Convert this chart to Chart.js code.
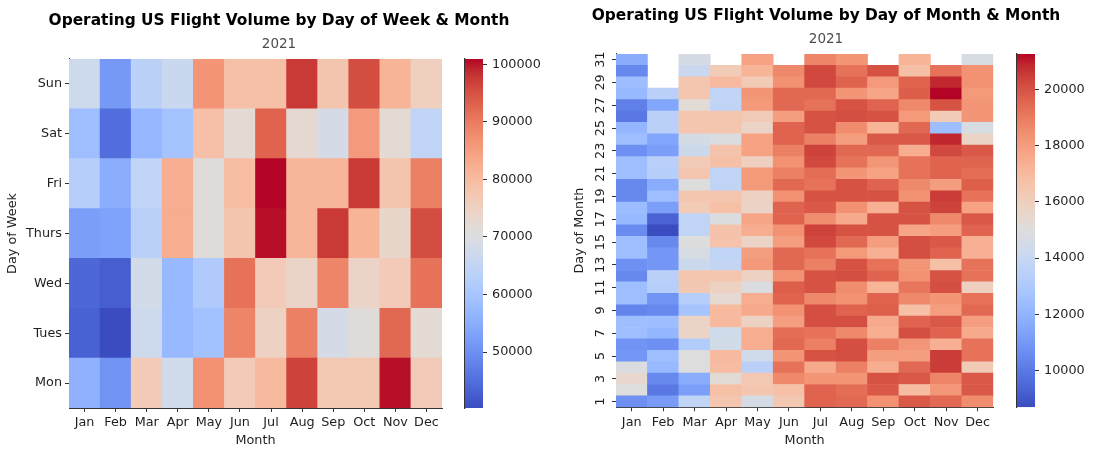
<!DOCTYPE html>
<html><head><meta charset="utf-8">
<script src="https://cdn.jsdelivr.net/npm/chart.js@4.4.1/dist/chart.umd.min.js"></script>
<style>
html,body{margin:0;padding:0;background:#fff;}
#wrap{position:relative;width:1109px;height:460px;overflow:hidden;background:#fff;}
canvas{position:absolute;top:0;}
</style></head><body>
<div id="wrap">
<canvas id="heatWeek" width="558" height="460" style="left:0px"></canvas>
<canvas id="barWeek" width="118" height="460" style="left:440px"></canvas>
<canvas id="heatMonth" width="536" height="460" style="left:558px"></canvas>
<canvas id="barMonth" width="119" height="460" style="left:990px"></canvas>
</div>
<script>
// ---------------- DATA ----------------
const months = ['Jan','Feb','Mar','Apr','May','Jun','Jul','Aug','Sep','Oct','Nov','Dec'];
const weekdays = ['Mon','Tues','Wed','Thurs','Fri','Sat','Sun'];

// Day-of-week flight volume (Jan..Dec)
const volMon   = [56000, 50600, 76700, 67600, 87000, 76700, 80300, 96700, 77300, 77300, 100300, 76700];
const volTues  = [43300, 40300, 67000, 57300, 59000, 88800, 74900, 89400, 68700, 71200, 92400, 72000];
const volWed   = [44000, 42700, 68200, 57300, 61500, 91200, 76700, 74200, 88800, 74200, 76700, 91200];
const volThurs = [52400, 53000, 63300, 82700, 71200, 78000, 100300, 81000, 97500, 81500, 73500, 95500];
const volFri   = [62700, 55000, 64500, 82700, 71200, 79700, 100900, 81000, 81000, 97500, 78000, 89400];
const volSat   = [58500, 45000, 57000, 59500, 79000, 72000, 93000, 72500, 68700, 85800, 72000, 64500];
const volSun   = [67000, 51500, 63500, 66500, 86500, 79000, 79000, 97500, 78000, 95500, 81500, 75500];
const weekColorbarTicks = [50000, 60000, 70000, 80000, 90000, 100000];

// Day-of-month flight volume, rows = day 1..31, columns = Jan..Dec
const dayNumbers = [1,2,3,4,5,6,7,8,9,10,11,12,13,14,15,16,17,18,19,20,21,22,23,24,25,26,27,28,29,30,31];
const dayTickDays = [1,3,5,7,9,11,13,15,17,19,21,23,25,27,29,31];
const dayOfMonthVolume = [
  [10710, 11080, 13720, 16480, 14600, 16360, 19620, 19490, 18360, 19870, 19490, 18490],
  [14975,  9955, 11210, 16730, 16480, 16730, 19620, 19370, 19870, 16860, 18240, 19870],
  [15480, 10460, 11710, 15230, 16360, 18610, 18240, 18240, 20000, 19870, 18740, 19870],
  [14850, 12210, 14975, 16860, 13470, 19240, 17610, 18870, 17480, 19490, 20500, 16230],
  [10960, 12470, 14975, 16980, 14350, 18240, 20000, 20120, 17990, 17990, 20500, 19240],
  [10840, 10710, 13220, 14470, 17480, 19490, 18870, 20120, 18870, 18240, 17360, 19240],
  [12470, 12090, 15730, 14350, 17480, 19370, 19240, 18610, 17480, 20120, 19620, 17610],
  [12470, 12470, 15730, 16980, 15850, 17990, 20120, 20120, 17610, 19620, 19870, 17990],
  [10330, 10460, 12720, 16980, 17610, 18360, 20120, 19620, 19740, 16730, 17990, 19490],
  [12470, 10840, 13340, 15350, 17480, 19620, 18610, 18360, 19620, 18610, 18240, 19240],
  [12470, 13340, 16360, 15850, 14850, 19740, 20000, 18490, 17230, 19120, 20120, 15980],
  [10460, 13470, 16480, 16480, 15850, 18360, 20000, 20120, 19620, 18360, 20000, 19240],
  [10710, 10960, 14220, 13850, 18110, 19490, 18870, 20000, 19240, 18240, 16730, 19240],
  [12470, 10960, 14720, 13720, 17990, 19490, 19240, 18110, 17360, 20120, 19620, 17360],
  [12470, 10460, 14975, 16610, 15730, 17990, 20250, 19490, 17990, 20120, 19870, 17360],
  [10580,  8700, 13720, 16610, 17480, 18360, 20370, 20000, 20000, 17740, 17990, 19620],
  [12210,  9330, 13720, 14850, 17740, 19620, 18490, 17610, 20000, 20000, 18610, 19870],
  [12340, 11210, 16230, 16730, 15730, 19620, 19870, 18360, 17360, 20000, 20370, 17860],
  [10460, 12470, 16480, 16480, 15850, 18360, 20000, 20000, 20000, 18360, 20500, 19240],
  [10460, 11710, 14975, 13720, 18110, 19490, 19240, 20000, 19620, 18610, 17990, 19740],
  [12470, 13340, 16480, 13720, 18110, 18870, 19370, 18240, 17860, 19240, 19620, 19370],
  [12470, 13470, 16230, 16730, 15980, 18360, 20250, 19240, 18240, 19240, 19620, 19620],
  [10710, 11210, 14220, 16610, 17860, 18870, 20370, 19490, 19490, 17480, 20250, 19870],
  [12470, 11460, 14600, 14850, 17860, 19620, 18870, 17990, 19870, 19870, 20870, 15730],
  [12090, 13470, 16480, 16480, 15730, 19620, 20000, 18490, 17230, 19490, 12470, 14720],
  [ 9955, 13470, 16480, 16480, 16230, 17990, 20000, 20120, 20000, 18110, 16230, 18240],
  [10200, 11460, 15230, 13720, 18110, 19490, 19240, 20000, 19620, 18610, 20000, 18240],
  [12210, 13470, 16480, 13720, 18240, 19490, 19490, 18240, 17740, 19740, 21250, 18110],
  [12470,  null, 16480, 16980, 16230, 18360, 20250, 19620, 18110, 19620, 20870, 18360],
  [10460,  null, 14100, 16230, 17230, 18610, 20250, 19240, 20000, 16730, 19240, 18360],
  [11700,  null, 14600,  null, 17860,  null, 18740, 18240,  null, 17230,  null, 14720]
];
const monthColorbarTicks = [10000, 12000, 14000, 16000, 18000, 20000];

// ---------------- COLORMAP (coolwarm) ----------------
const CW = [
[0.2298057,0.298717966,0.753683153],[0.26623388,0.353094838,0.801466763],[0.30386891,0.406535296,0.84495867],
[0.342804478,0.458757618,0.883725899],[0.38301334,0.50941904,0.917387822],[0.424369608,0.558148092,0.945619588],
[0.46666708,0.604562568,0.968154911],[0.509635204,0.648280772,0.98478814],[0.552953156,0.688929332,0.995375608],
[0.596262162,0.726149107,0.999836203],[0.639176211,0.759599947,0.998151185],[0.681291281,0.788964712,0.990363227],
[0.722193294,0.813952739,0.976574709],[0.761464949,0.834302879,0.956945269],[0.798691636,0.849786142,0.931688648],
[0.833466556,0.860207984,0.901068838],[0.865395197,0.86541021,0.865395561],[0.897787179,0.848937047,0.820880546],
[0.924127593,0.827384882,0.774508472],[0.944468518,0.800927443,0.726736146],[0.958852946,0.769767752,0.678007945],
[0.96732803,0.734132809,0.628751763],[0.969954137,0.694266682,0.579375448],[0.966811177,0.650421156,0.530263762],
[0.958003065,0.602842431,0.481775914],[0.943660866,0.551750968,0.434243684],[0.923944917,0.49730856,0.387970225],
[0.89904617,0.439559467,0.343229596],[0.869186849,0.378313092,0.300267182],[0.834620542,0.312874446,0.259301199],
[0.795631745,0.24128379,0.220525627],[0.752534934,0.157246067,0.184115123],[0.705673158,0.01555616,0.150232812]
];
function coolwarm(t){
  t = Math.max(0, Math.min(1, t));
  const n = CW.length - 1, f = t * n;
  const i = Math.min(Math.floor(f), n - 1), u = f - i;
  const a = CW[i], b = CW[i + 1];
  const c = k => Math.round((a[k] + (b[k] - a[k]) * u) * 255);
  return 'rgb(' + c(0) + ',' + c(1) + ',' + c(2) + ')';
}

Chart.defaults.font.family = 'DejaVu Sans';
const TEXT = '#1f1f1f';
const LINE = '#333333';
const tickFont = {family: 'DejaVu Sans', size: 12.8};

function range(rows){
  const all = rows.flat().filter(v => v != null);
  return [Math.min(...all), Math.max(...all)];
}

function heatmap(id, o){
  const [vmin, vmax] = range(o.rows);
  const datasets = o.rows.map((row, r) => ({
    data: row.map(v => v == null ? null : [r, r + 1]),
    backgroundColor: row.map(v => v == null ? 'rgba(0,0,0,0)' : coolwarm((v - vmin) / (vmax - vmin))),
    grouped: false, barPercentage: 1, categoryPercentage: 1, borderWidth: 0
  }));
  return new Chart(document.getElementById(id), {
    type: 'bar',
    data: {labels: months, datasets},
    options: {
      responsive: false, animation: false,
      layout: {padding: {left: 0, right: 0, top: 0, bottom: 0}},
      plugins: {
        legend: {display: false}, tooltip: {enabled: false},
        title: {display: true, text: o.title, color: '#000',
          font: {family: 'DejaVu Sans', size: 15.4, weight: 'bold'},
          padding: {top: o.titleTop, bottom: 5.7}},
        subtitle: {display: true, text: '2021', color: '#4d4d4d',
          font: {family: 'DejaVu Sans', size: 13.5},
          padding: {top: 0, bottom: 6.6}}
      },
      scales: {
        x: {
          type: 'category', offset: true,
          grid: {display: true, offset: false, drawOnChartArea: false, tickLength: 4, color: LINE},
          border: {display: true, color: LINE, width: 1},
          ticks: {font: tickFont, color: TEXT, padding: o.xPad, maxRotation: 0, minRotation: 0, autoSkip: false},
          title: {display: true, text: 'Month', font: tickFont, color: TEXT, padding: {top: 0, bottom: 12}},
          afterFit: a => { a.height = o.xHeight; }
        },
        y: {
          type: 'linear', min: 0, max: o.rows.length,
          grid: {display: true, drawOnChartArea: false, tickLength: 4, color: LINE},
          border: {display: true, color: LINE, width: 1},
          afterBuildTicks: a => { a.ticks = o.yTicks.map(v => ({value: v})); },
          ticks: {font: tickFont, color: TEXT, padding: 3, autoSkip: false,
            minRotation: o.rotY, maxRotation: o.rotY, crossAlign: o.rotY ? 'center' : 'near',
            callback: v => o.yLabel(v)},
          title: {display: true, text: o.yTitle, font: tickFont, color: TEXT, padding: {top: o.yTitlePad, bottom: 0}},
          afterFit: a => { a.width = o.yWidth; }
        },
        yR: {
          type: 'linear', position: 'right', display: true,
          ticks: {display: false}, grid: {display: false}, border: {display: false},
          afterFit: a => { a.width = o.rightWidth; }
        }
      }
    }
  });
}

function colorbar(id, rows, ticks, o){
  const [vmin, vmax] = range(rows);
  return new Chart(document.getElementById(id), {
    type: 'bar',
    data: {labels: ['scale'], datasets: [{
      data: [[vmin, vmax]],
      backgroundColor: ctx => {
        const ca = ctx.chart.chartArea;
        if (!ca) return 'rgba(0,0,0,0)';
        const g = ctx.chart.ctx.createLinearGradient(0, ca.bottom, 0, ca.top);
        for (let i = 0; i <= 64; i++) g.addColorStop(i / 64, coolwarm(i / 64));
        return g;
      },
      barPercentage: 1, categoryPercentage: 1, borderWidth: 0, inflateAmount: 0
    }]},
    options: {
      responsive: false, animation: false,
      layout: {padding: {left: o.left, right: 0, top: o.top, bottom: o.bottom}},
      plugins: {legend: {display: false}, tooltip: {enabled: false}},
      scales: {
        x: {display: false, offset: true},
        yL: {
          type: 'linear', position: 'left', min: vmin, max: vmax,
          ticks: {display: false},
          grid: {display: true, drawOnChartArea: false, drawTicks: false},
          border: {display: true, color: LINE, width: 1.2},
          afterFit: a => { a.width = 0; }
        },
        y: {
          type: 'linear', position: 'right', min: vmin, max: vmax,
          afterBuildTicks: a => { a.ticks = ticks.map(v => ({value: v})); },
          ticks: {font: tickFont, color: TEXT, padding: 5, autoSkip: false, callback: v => String(v)},
          grid: {display: true, drawOnChartArea: false, tickLength: 4, color: LINE},
          border: {display: false},
          afterFit: a => { a.width = o.axisWidth; }
        }
      }
    }
  });
}

const weekRows = [volMon, volTues, volWed, volThurs, volFri, volSat, volSun];

heatmap('heatWeek', {
  rows: weekRows,
  title: 'Operating US Flight Volume by Day of Week & Month',
  titleTop: 12, xHeight: 52, xPad: 3,
  yTicks: weekdays.map((d, i) => i + 0.5),
  yLabel: v => weekdays[Math.floor(v)],
  yTitle: 'Day of Week', yTitlePad: 5, rotY: 0,
  yWidth: 69, rightWidth: 116
});
colorbar('barWeek', weekRows, weekColorbarTicks, {left: 25, top: 59, bottom: 52, axisWidth: 75});

heatmap('heatMonth', {
  rows: dayOfMonthVolume,
  title: 'Operating US Flight Volume by Day of Month & Month',
  titleTop: 7, xHeight: 52.7, xPad: 3.5,
  yTicks: dayTickDays.map(d => d - 0.5),
  yLabel: v => String(dayNumbers[Math.floor(v)]),
  yTitle: 'Day of Month', yTitlePad: 14, rotY: 90,
  yWidth: 58, rightWidth: 100.7
});
colorbar('barMonth', dayOfMonthVolume, monthColorbarTicks, {left: 27, top: 54, bottom: 52.7, axisWidth: 74});
</script>
</body></html>
